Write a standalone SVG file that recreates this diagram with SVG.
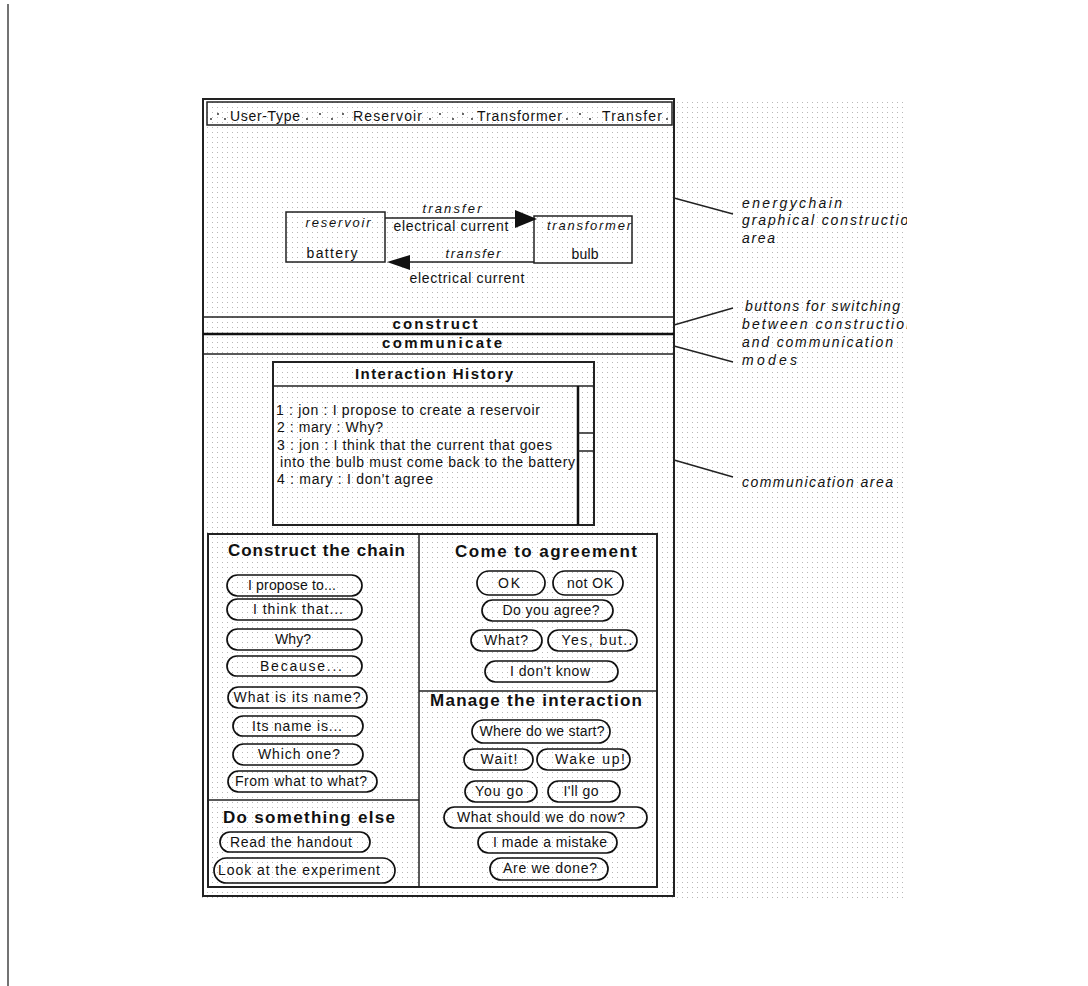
<svg xmlns="http://www.w3.org/2000/svg" width="1088" height="986" viewBox="0 0 1088 986">
<style>
text{font-family:"Liberation Sans",Arial,sans-serif;fill:#111}
.ui{font-size:14px}
.it{font-size:13px;font-style:italic}
.hd{font-size:17px;font-weight:bold}
.hs{font-size:15px;font-weight:bold}
.an{font-size:14px;font-style:italic}
.frame{fill:none;stroke:#222;stroke-width:2}
.ln{fill:none;stroke:#222;stroke-width:1.5}
.pill{fill:none;stroke:#111;stroke-width:1.7}
.dot{fill:#222}
</style>
<defs>
<pattern id="dots" x="0" y="0" width="5" height="5" patternUnits="userSpaceOnUse">
<rect x="2" y="2" width="1" height="1" fill="#b8b8b8"/>
</pattern>
<clipPath id="clipR"><rect x="660" y="90" width="247" height="420"/></clipPath>
</defs>
<rect width="1088" height="986" fill="#fff"/>
<line x1="8" y1="4" x2="8" y2="986" stroke="#444" stroke-width="1.5"/>
<rect x="200" y="98" width="707" height="800" fill="url(#dots)"/>

<g id="window">
<rect class="frame" x="203" y="99" width="471" height="797"/>
</g>

<g id="toolbar">
<rect class="ln" x="207" y="102" width="465" height="23"/>
<text class="ui" x="230" y="121" textLength="70" lengthAdjust="spacing">User-Type</text>
<text class="ui" x="353" y="121" textLength="69" lengthAdjust="spacing">Reservoir</text>
<text class="ui" x="477" y="121" textLength="85" lengthAdjust="spacing">Transformer</text>
<text class="ui" x="602" y="121" textLength="60" lengthAdjust="spacing">Transfer</text>
<g class="dot">
<circle cx="211" cy="119" r="0.9"/><circle cx="218" cy="114" r="0.9"/><circle cx="225" cy="119" r="0.9"/>
<circle cx="307" cy="119" r="0.9"/><circle cx="320" cy="114" r="0.9"/><circle cx="332" cy="119" r="0.9"/><circle cx="343" cy="114" r="0.9"/>
<circle cx="430" cy="119" r="0.9"/><circle cx="440" cy="114" r="0.9"/><circle cx="453" cy="119" r="0.9"/><circle cx="463" cy="114" r="0.9"/><circle cx="472" cy="119" r="0.9"/>
<circle cx="567" cy="119" r="0.9"/><circle cx="580" cy="114" r="0.9"/><circle cx="590" cy="119" r="0.9"/>
<circle cx="667" cy="119" r="0.9"/>
</g>
</g>

<g id="node-reservoir">
<rect class="ln" x="286" y="212" width="99" height="50"/>
<text class="it" x="338" y="227" text-anchor="middle" textLength="65" lengthAdjust="spacing">reservoir</text>
<text class="ui" x="332" y="258" text-anchor="middle" textLength="51" lengthAdjust="spacing">battery</text>
</g>
<g id="node-transformer">
<rect class="ln" x="534" y="216" width="98" height="47"/>
<text class="it" x="589" y="230" text-anchor="middle" textLength="84" lengthAdjust="spacing">transformer</text>
<text class="ui" x="585" y="259" text-anchor="middle" textLength="27" lengthAdjust="spacing">bulb</text>
</g>

<g id="connectors">
<line class="ln" x1="385" y1="218" x2="520" y2="218"/>
<polygon points="515,210 537,219 515,228" fill="#111"/>
<text class="it" x="452" y="213" text-anchor="middle" textLength="59" lengthAdjust="spacing">transfer</text>
<text class="ui" x="451" y="231" text-anchor="middle" textLength="115" lengthAdjust="spacing">electrical current</text>
<line class="ln" x1="405" y1="262" x2="534" y2="262"/>
<polygon points="410,255 387,262 410,270" fill="#111"/>
<text class="it" x="473" y="258" text-anchor="middle" textLength="55" lengthAdjust="spacing">transfer</text>
<text class="ui" x="467" y="283" text-anchor="middle" textLength="115" lengthAdjust="spacing">electrical current</text>
</g>

<g id="mode-buttons">
<line class="ln" x1="203" y1="317" x2="674" y2="317"/>
<line x1="203" y1="334" x2="674" y2="334" stroke="#111" stroke-width="2.5"/>
<line class="ln" x1="203" y1="354" x2="674" y2="354"/>
<text class="hs" x="435" y="329" text-anchor="middle" textLength="85" lengthAdjust="spacing">construct</text>
<text class="hs" x="442" y="348" text-anchor="middle" textLength="120" lengthAdjust="spacing">communicate</text>
</g>

<g id="interaction-history">
<rect class="frame" x="273" y="362" width="321" height="163"/>
<line class="ln" x1="273" y1="386" x2="594" y2="386"/>
<text class="hs" x="434" y="379" text-anchor="middle" textLength="158" lengthAdjust="spacing">Interaction History</text>
<line x1="578" y1="386" x2="578" y2="525" stroke="#111" stroke-width="2.5"/>
<line class="ln" x1="578" y1="433" x2="594" y2="433"/>
<line class="ln" x1="578" y1="451" x2="594" y2="451"/>
<text class="ui" x="276" y="415" textLength="264" lengthAdjust="spacing">1 : jon : I propose to create a reservoir</text>
<text class="ui" x="277" y="432" textLength="106" lengthAdjust="spacing">2 : mary : Why?</text>
<text class="ui" x="277" y="450" textLength="275" lengthAdjust="spacing">3 : jon : I think that the current that goes</text>
<text class="ui" x="280" y="467" textLength="295" lengthAdjust="spacing">into the bulb must come back to the battery</text>
<text class="ui" x="277" y="484" textLength="156" lengthAdjust="spacing">4 : mary : I don't agree</text>
</g>

<g id="annotations">
<line class="ln" x1="674" y1="198" x2="733" y2="214"/>
<line class="ln" x1="674" y1="325" x2="733" y2="308"/>
<line class="ln" x1="674" y1="346" x2="733" y2="362"/>
<line class="ln" x1="674" y1="460" x2="733" y2="477"/>
<g clip-path="url(#clipR)">
<text class="an" x="742" y="208" textLength="100" lengthAdjust="spacing">energychain</text>
<text class="an" x="742" y="225" textLength="176" lengthAdjust="spacing">graphical construction</text>
<text class="an" x="742" y="243" textLength="33" lengthAdjust="spacing">area</text>
<text class="an" x="745" y="311" textLength="155" lengthAdjust="spacing">buttons for switching</text>
<text class="an" x="742" y="329" textLength="172" lengthAdjust="spacing">between construction</text>
<text class="an" x="742" y="347" textLength="151" lengthAdjust="spacing">and communication</text>
<text class="an" x="742" y="365" textLength="55" lengthAdjust="spacing">modes</text>
<text class="an" x="742" y="487" textLength="151" lengthAdjust="spacing">communication area</text>
</g>
</g>

<g id="panels">
<rect class="frame" x="208" y="534" width="449" height="353"/>
<line class="ln" x1="419" y1="534" x2="419" y2="887"/>
<line class="ln" x1="208" y1="800" x2="419" y2="800"/>
<line class="ln" x1="419" y1="691" x2="657" y2="691"/>
</g>

<g id="construct-chain">
<text class="hd" x="228" y="556" textLength="177" lengthAdjust="spacing">Construct the chain</text>
<g id="btn-propose"><rect class="pill" x="227" y="575" width="135" height="21" rx="10.5"/><text class="ui" x="292" y="590" text-anchor="middle" textLength="88" lengthAdjust="spacing">I propose to...</text></g>
<g id="btn-think"><rect class="pill" x="227" y="599" width="135" height="21" rx="10.5"/><text class="ui" x="298" y="614" text-anchor="middle" textLength="90" lengthAdjust="spacing">I think that...</text></g>
<g id="btn-why"><rect class="pill" x="227" y="629" width="135" height="21" rx="10.5"/><text class="ui" x="293" y="644" text-anchor="middle" textLength="36" lengthAdjust="spacing">Why?</text></g>
<g id="btn-because"><rect class="pill" x="227" y="656" width="135" height="20" rx="10"/><text class="ui" x="301" y="671" text-anchor="middle" textLength="82" lengthAdjust="spacing">Because...</text></g>
<g id="btn-whatname"><rect class="pill" x="228" y="687" width="139" height="21" rx="10.5"/><text class="ui" x="297" y="702" text-anchor="middle" textLength="127" lengthAdjust="spacing">What is its name?</text></g>
<g id="btn-nameis"><rect class="pill" x="233" y="716" width="130" height="20" rx="10"/><text class="ui" x="297" y="731" text-anchor="middle" textLength="90" lengthAdjust="spacing">Its name is...</text></g>
<g id="btn-whichone"><rect class="pill" x="233" y="744" width="130" height="21" rx="10.5"/><text class="ui" x="299" y="759" text-anchor="middle" textLength="82" lengthAdjust="spacing">Which one?</text></g>
<g id="btn-fromwhat"><rect class="pill" x="228" y="771" width="149" height="21" rx="10.5"/><text class="ui" x="301" y="786" text-anchor="middle" textLength="132" lengthAdjust="spacing">From what to what?</text></g>
</g>

<g id="something-else">
<text class="hd" x="223" y="823" textLength="172" lengthAdjust="spacing">Do something else</text>
<g id="btn-handout"><rect class="pill" x="220" y="832" width="150" height="20" rx="10"/><text class="ui" x="291" y="847" text-anchor="middle" textLength="122" lengthAdjust="spacing">Read the handout</text></g>
<g id="btn-experiment"><rect class="pill" x="214" y="858" width="181" height="25" rx="12.5"/><text class="ui" x="299" y="875" text-anchor="middle" textLength="162" lengthAdjust="spacing">Look at the experiment</text></g>
</g>

<g id="agreement">
<text class="hd" x="455" y="557" textLength="182" lengthAdjust="spacing">Come to agreement</text>
<g id="btn-ok"><rect class="pill" x="477" y="571" width="68" height="24" rx="12"/><text class="ui" x="509" y="588" text-anchor="middle" textLength="22" lengthAdjust="spacing">OK</text></g>
<g id="btn-notok"><rect class="pill" x="553" y="571" width="70" height="24" rx="12"/><text class="ui" x="590" y="588" text-anchor="middle" textLength="46" lengthAdjust="spacing">not OK</text></g>
<g id="btn-agree"><rect class="pill" x="482" y="600" width="131" height="21" rx="10.5"/><text class="ui" x="551" y="615" text-anchor="middle" textLength="97" lengthAdjust="spacing">Do you agree?</text></g>
<g id="btn-what"><rect class="pill" x="471" y="630" width="71" height="21" rx="10.5"/><text class="ui" x="506" y="645" text-anchor="middle" textLength="44" lengthAdjust="spacing">What?</text></g>
<g id="btn-yesbut"><rect class="pill" x="548" y="630" width="89" height="21" rx="10.5"/><text class="ui" x="597" y="645" text-anchor="middle" textLength="71" lengthAdjust="spacing">Yes, but..</text></g>
<g id="btn-dontknow"><rect class="pill" x="485" y="661" width="133" height="21" rx="10.5"/><text class="ui" x="550" y="676" text-anchor="middle" textLength="80" lengthAdjust="spacing">I don't know</text></g>
</g>

<g id="manage">
<text class="hd" x="430" y="706" textLength="212" lengthAdjust="spacing">Manage the interaction</text>
<g id="btn-start"><rect class="pill" x="472" y="720" width="138" height="23" rx="11.5"/><text class="ui" x="542" y="736" text-anchor="middle" textLength="125" lengthAdjust="spacing">Where do we start?</text></g>
<g id="btn-wait"><rect class="pill" x="464" y="749" width="69" height="21" rx="10.5"/><text class="ui" x="499" y="764" text-anchor="middle" textLength="37" lengthAdjust="spacing">Wait!</text></g>
<g id="btn-wakeup"><rect class="pill" x="537" y="749" width="93" height="21" rx="10.5"/><text class="ui" x="590" y="764" text-anchor="middle" textLength="70" lengthAdjust="spacing">Wake up!</text></g>
<g id="btn-yougo"><rect class="pill" x="465" y="781" width="72" height="21" rx="10.5"/><text class="ui" x="499" y="796" text-anchor="middle" textLength="48" lengthAdjust="spacing">You go</text></g>
<g id="btn-illgo"><rect class="pill" x="548" y="781" width="72" height="21" rx="10.5"/><text class="ui" x="581" y="796" text-anchor="middle" textLength="35" lengthAdjust="spacing">I'll go</text></g>
<g id="btn-whatnow"><rect class="pill" x="444" y="807" width="203" height="21" rx="10.5"/><text class="ui" x="541" y="822" text-anchor="middle" textLength="168" lengthAdjust="spacing">What should we do now?</text></g>
<g id="btn-mistake"><rect class="pill" x="478" y="832" width="139" height="21" rx="10.5"/><text class="ui" x="550" y="847" text-anchor="middle" textLength="114" lengthAdjust="spacing">I made a mistake</text></g>
<g id="btn-done"><rect class="pill" x="490" y="858" width="118" height="22" rx="11"/><text class="ui" x="550" y="873" text-anchor="middle" textLength="94" lengthAdjust="spacing">Are we done?</text></g>
</g>
</svg>
